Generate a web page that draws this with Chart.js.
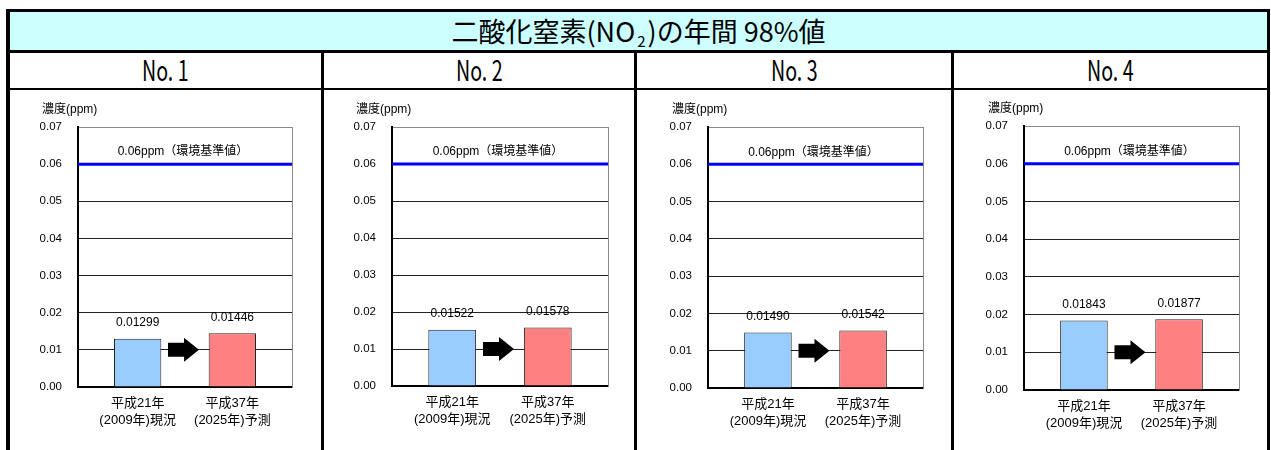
<!DOCTYPE html>
<html lang="ja">
<head>
<meta charset="utf-8">
<title>二酸化窒素(NO2)の年間98%値</title>
<script src="https://cdn.jsdelivr.net/npm/chart.js@4.4.1/dist/chart.umd.min.js"></script>
<style>
  html, body { margin: 0; padding: 0; background: #fff; }
  body { width: 1271px; height: 450px; position: relative; overflow: hidden;
         font-family: 'Noto Sans CJK JP', sans-serif; color: #000; }
  .rule { position: absolute; background: #000; z-index: 3; }
  #titleRow { position: absolute; left: 10px; top: 12px; width: 1257px; height: 38px;
              background: #ccffff; text-align: center; line-height: 38px; font-size: 27px; }
  #titleRow .sub { font-size: 15px; position: relative; top: 5px; padding: 0 2px; }
  .head { position: absolute; top: 53px; height: 35px; line-height: 32px; text-align: center; font-size: 28px; }
  .head span { display: inline-block; transform: scaleX(0.7); }
  canvas { position: absolute; z-index: 1; }
</style>
</head>
<body>
<div id="titleRow">二酸化窒素(NO<span class="sub">2</span>)の年間 98%値</div>
<script>
// 地点ごとの年間98%値 (ppm)
const stations = ['No. 1', 'No. 2', 'No. 3', 'No. 4'];
const periodLabels = [['平成21年', '(2009年)現況'], ['平成37年', '(2025年)予測']];
const current2009 = [0.01299, 0.01522, 0.01490, 0.01843];
const forecast2025 = [0.01446, 0.01578, 0.01542, 0.01877];
const envStandard = 0.06;
const yMax = 0.07;
const yStep = 0.01;

const barColors = ['#99ccff', '#ff8080'];
const fontFamily = "'Liberation Sans', 'Noto Sans CJK JP', sans-serif";

// 表の罫線と各グラフの描画領域
const colLefts = [10, 324, 637, 954];
const colRights = [321, 634, 951, 1267];
const plotBoxes = [
    { left: 78, top: 127, width: 214, height: 260 },
    { left: 392, top: 127, width: 216, height: 259 },
    { left: 708, top: 127, width: 215, height: 261 },
    { left: 1024, top: 126, width: 215, height: 264 }
];
const xMin = 0.37, xMax = 2.63;

function addRule(left, top, width, height) {
    const d = document.createElement('div');
    d.className = 'rule';
    Object.assign(d.style, { left: left + 'px', top: top + 'px', width: width + 'px', height: height + 'px' });
    document.body.appendChild(d);
}

addRule(6, 9, 1264, 3);
addRule(6, 9, 4, 441);
addRule(1267, 9, 3, 441);
addRule(6, 50, 1264, 3);
addRule(6, 88, 1264, 2);
colRights.slice(0, 3).forEach(x => addRule(x, 50, 3, 400));

// 棒の上の数値・縦軸タイトル・基準値ラベル・矢印
const panelDecor = {
    id: 'panelDecor',
    afterDatasetsDraw(chart) {
        const { ctx, chartArea, scales: { x, y } } = chart;
        ctx.save();
        ctx.fillStyle = '#000';
        ctx.textBaseline = 'middle';

        ctx.font = '12px ' + fontFamily;
        ctx.textAlign = 'left';
        ctx.fillText('濃度(ppm)', chartArea.left - 36, chartArea.top - 17);

        ctx.textAlign = 'center';
        ctx.fillText(envStandard + 'ppm（環境基準値）', (chartArea.left + chartArea.right) / 2 - 2,
            y.getPixelForValue(envStandard) - 12);

        const values = chart.data.datasets[0].data;
        chart.getDatasetMeta(0).data.forEach((bar, i) => {
            ctx.fillText(values[i].y.toFixed(5), bar.x, bar.y - 16);
        });

        const ax = x.getPixelForValue(1.5) - 1;
        const ay = y.getPixelForValue(yStep);
        ctx.beginPath();
        ctx.moveTo(ax - 16, ay - 7);
        ctx.lineTo(ax, ay - 7);
        ctx.lineTo(ax, ay - 12);
        ctx.lineTo(ax + 15, ay);
        ctx.lineTo(ax, ay + 12);
        ctx.lineTo(ax, ay + 7);
        ctx.lineTo(ax - 16, ay + 7);
        ctx.closePath();
        ctx.fill();
        ctx.restore();
    }
};

function makePanel(i) {
    const head = document.createElement('div');
    head.className = 'head';
    head.style.left = colLefts[i] + 'px';
    head.style.width = (colRights[i] - colLefts[i]) + 'px';
    head.innerHTML = '<span>' + stations[i] + '</span>';
    document.body.appendChild(head);

    const box = plotBoxes[i];
    const canvas = document.createElement('canvas');
    canvas.width = 42 + box.width + 12;
    canvas.height = 31 + box.height + 49;
    canvas.style.left = (box.left - 42) + 'px';
    canvas.style.top = (box.top - 31) + 'px';
    document.body.appendChild(canvas);

    new Chart(canvas.getContext('2d'), {
        type: 'bar',
        data: {
            datasets: [
                {
                    type: 'bar',
                    data: [{ x: 1, y: current2009[i] }, { x: 2, y: forecast2025[i] }],
                    backgroundColor: barColors,
                    borderColor: '#222',
                    borderWidth: 1,
                    barPercentage: 0.5,
                    categoryPercentage: 1,
                    xAxisID: 'x',
                    yAxisID: 'y'
                },
                {
                    type: 'line',
                    data: [{ x: xMin, y: envStandard }, { x: xMax, y: envStandard }],
                    borderColor: '#0000ff',
                    borderWidth: 3,
                    pointRadius: 0,
                    xAxisID: 'x',
                    yAxisID: 'y'
                }
            ]
        },
        options: {
            responsive: false,
            animation: false,
            devicePixelRatio: 1,
            layout: { padding: { left: 0, top: 31, right: 12, bottom: 0 } },
            plugins: { legend: { display: false }, tooltip: { enabled: false } },
            scales: {
                x: {
                    type: 'linear',
                    min: xMin,
                    max: xMax,
                    offset: false,
                    afterBuildTicks: s => { s.ticks = [{ value: 1 }, { value: 2 }]; },
                    afterFit: s => { s.height = 49; },
                    grid: { display: false, drawTicks: false },
                    border: { display: true, color: '#000', width: 2 },
                    ticks: {
                        autoSkip: false,
                        maxRotation: 0,
                        padding: 7,
                        color: '#000',
                        font: { family: fontFamily, size: 13, lineHeight: 1.38 },
                        callback: v => periodLabels[v - 1]
                    }
                },
                y: {
                    type: 'linear',
                    min: 0,
                    max: yMax,
                    afterFit: s => { s.width = 42; },
                    grid: {
                        drawTicks: false,
                        lineWidth: 1,
                        color: c => (c.tick && Math.abs(c.tick.value - yMax) < 1e-9) ? '#888' : '#222'
                    },
                    border: { color: '#000', width: 2 },
                    ticks: {
                        stepSize: yStep,
                        padding: 16,
                        color: '#000',
                        font: { family: fontFamily, size: 11.5 },
                        callback: v => v.toFixed(2)
                    }
                },
                y2: {
                    type: 'linear',
                    position: 'right',
                    min: 0,
                    max: yMax,
                    afterFit: s => { s.width = 0; },
                    grid: { display: false, drawTicks: false },
                    ticks: { display: false },
                    border: { color: '#888', width: 1 }
                }
            }
        },
        plugins: [panelDecor]
    });
}

stations.forEach((_, i) => makePanel(i));
</script>
</body>
</html>
